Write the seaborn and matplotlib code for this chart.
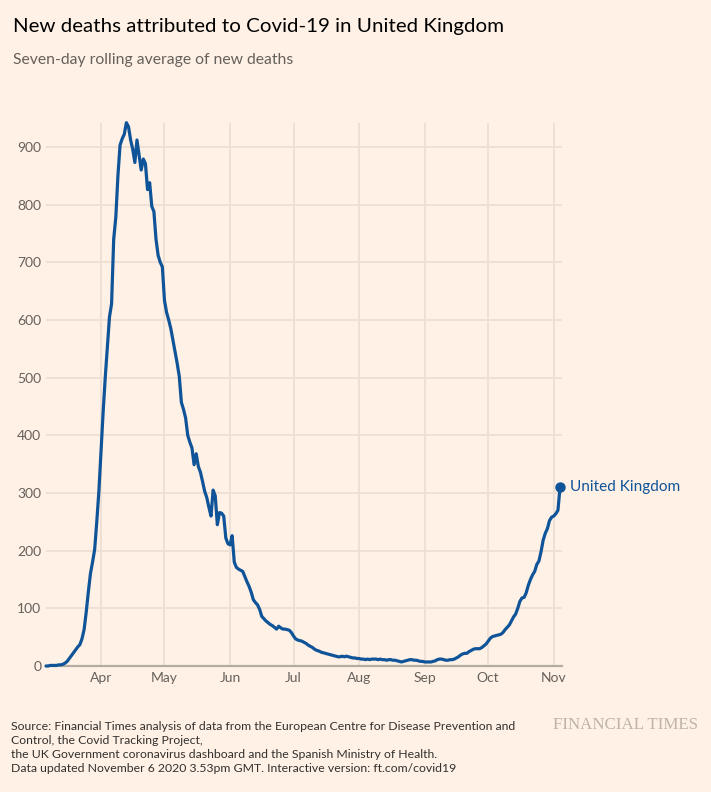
import matplotlib
matplotlib.use("Agg")
import matplotlib.pyplot as plt
from matplotlib import font_manager
import pandas as pd
import seaborn as sns

# seven-day rolling average of new deaths, one value per day from 6 March 2020
march = [0, 0, 1, 1, 1, 1, 2, 2, 3, 5, 8, 13, 18, 23, 28, 33, 37, 47, 63, 93,
         128, 160, 180, 202, 250, 303]
april = [370, 440, 500, 552, 605, 628, 740, 778, 850, 903, 914, 922, 942, 935, 912,
         896, 873, 912, 886, 860, 879, 871, 826, 838, 797, 788, 740, 712, 700, 692]
may = [634, 613, 600, 585, 565, 545, 525, 502, 457, 445, 430, 400, 388, 378, 349,
       368, 346, 336, 320, 303, 292, 275, 260, 305, 295, 245, 266, 265, 260, 222, 212]
june = [210, 226, 180, 171, 168, 166, 164, 155, 146, 138, 128, 115, 110, 106, 98,
        86, 82, 78, 75, 72, 70, 67, 64, 69, 66, 64, 64, 63, 62, 58]
july = [52, 47, 45, 44, 43, 41, 39, 36, 34, 32, 29, 27, 26, 24, 23, 22, 21, 20, 19,
        18, 17, 16, 16, 17, 16, 17, 16, 15, 14, 14, 13]
august = [13, 12, 12, 11, 12, 11, 12, 12, 12, 11, 12, 11, 11, 10, 11, 11, 10, 10, 9,
          8, 7, 8, 9, 10, 11, 11, 10, 10, 9, 8, 8]
september = [7, 7, 7, 7, 8, 9, 11, 12, 12, 11, 10, 10, 11, 11, 12, 14, 16, 19, 21,
             22, 22, 25, 27, 29, 30, 30, 30, 32, 35, 38]
october = [43, 48, 51, 52, 53, 54, 55, 58, 63, 67, 71, 78, 85, 90, 100, 112, 118,
           119, 127, 140, 150, 158, 164, 176, 182, 198, 218, 230, 238, 252, 258]
november = [260, 264, 270, 310]

deaths = march + april + may + june + july + august + september + october + november
dates = pd.date_range("2020-03-06", periods=len(deaths), freq="D")
df = pd.DataFrame({"date": dates, "deaths": deaths})

month_ticks = pd.to_datetime(["2020-04-01", "2020-05-01", "2020-06-01", "2020-07-01",
                              "2020-08-01", "2020-09-01", "2020-10-01", "2020-11-01"])
month_labels = ["Apr", "May", "Jun", "Jul", "Aug", "Sep", "Oct", "Nov"]
y_ticks = [0, 100, 200, 300, 400, 500, 600, 700, 800, 900]

BG = "#FFF1E5"
BLUE = "#0F5499"
GRID = "#EDDFD3"
AXIS = "#B5ABA2"
GREY = "#66605C"

sns.set_theme(style="white")
installed = {f.name for f in font_manager.fontManager.ttflist}
narrow = "Liberation Sans Narrow" if "Liberation Sans Narrow" in installed else "Lato"
plt.rcParams["font.family"] = ["Lato", "DejaVu Sans"]

W, H = 711, 792
fig = plt.figure(figsize=(W / 100, H / 100), dpi=100, facecolor=BG)
ax = fig.add_axes([46 / W, 1 - 666 / H, (562 - 46) / W, (666 - 122.7) / H])
ax.set_facecolor(BG)

sns.lineplot(data=df, x="date", y="deaths", ax=ax, color=BLUE, linewidth=2.3,
             solid_joinstyle="round", clip_on=False, zorder=3)
last = df.iloc[-1]
ax.plot([last["date"]], [last["deaths"]], "o", color=BLUE, markersize=6.5,
        clip_on=False, zorder=4)
ax.annotate("United Kingdom", xy=(last["date"], last["deaths"]), xytext=(7.5, 0),
            textcoords="offset points", va="center", ha="left", color=BLUE,
            fontsize=11.1, annotation_clip=False)

ax.set_xlim(dates[0], dates[-1] + pd.Timedelta(hours=22))
ax.set_ylim(0, max(deaths))
ax.set_xticks(month_ticks)
ax.set_xticklabels(month_labels)
ax.set_yticks(y_ticks)
ax.set_yticklabels([str(v) for v in y_ticks])
ax.grid(True, color=GRID, linewidth=1.3)
ax.set_axisbelow(True)
ax.tick_params(length=0, labelsize=10, colors=GREY)
ax.tick_params(axis="x", pad=4)
ax.tick_params(axis="y", pad=3.5)
ax.set_xlabel("")
ax.set_ylabel("")
for side in ["top", "right", "left"]:
    ax.spines[side].set_visible(False)
ax.spines["bottom"].set_color(AXIS)
ax.spines["bottom"].set_linewidth(1.6)

fig.text(13 / W, 1 - 31.7 / H, "New deaths attributed to Covid-19 in United Kingdom",
         fontsize=14.75, color="#000000", va="baseline", ha="left")
fig.text(13 / W, 1 - 64 / H, "Seven-day rolling average of new deaths",
         fontsize=11.3, color=GREY, va="baseline", ha="left")

source_lines = [
    "Source: Financial Times analysis of data from the European Centre for Disease Prevention and",
    "Control, the Covid Tracking Project,",
    "the UK Government coronavirus dashboard and the Spanish Ministry of Health.",
    "Data updated November 6 2020 3.53pm GMT. Interactive version: ft.com/covid19",
]
for i, line in enumerate(source_lines):
    fig.text(11 / W, 1 - (730 + 13.9 * i) / H, line, fontsize=8.8, color="#33302E",
             va="baseline", ha="left", family=[narrow, "DejaVu Sans"])
fig.text(698 / W, 1 - 729 / H, "FINANCIAL TIMES", fontsize=12.2, color="#BDB3AA",
         va="baseline", ha="right", family=["Liberation Serif", "DejaVu Serif"])

fig.savefig("out.png", dpi=100, facecolor=BG)
plt.close(fig)
